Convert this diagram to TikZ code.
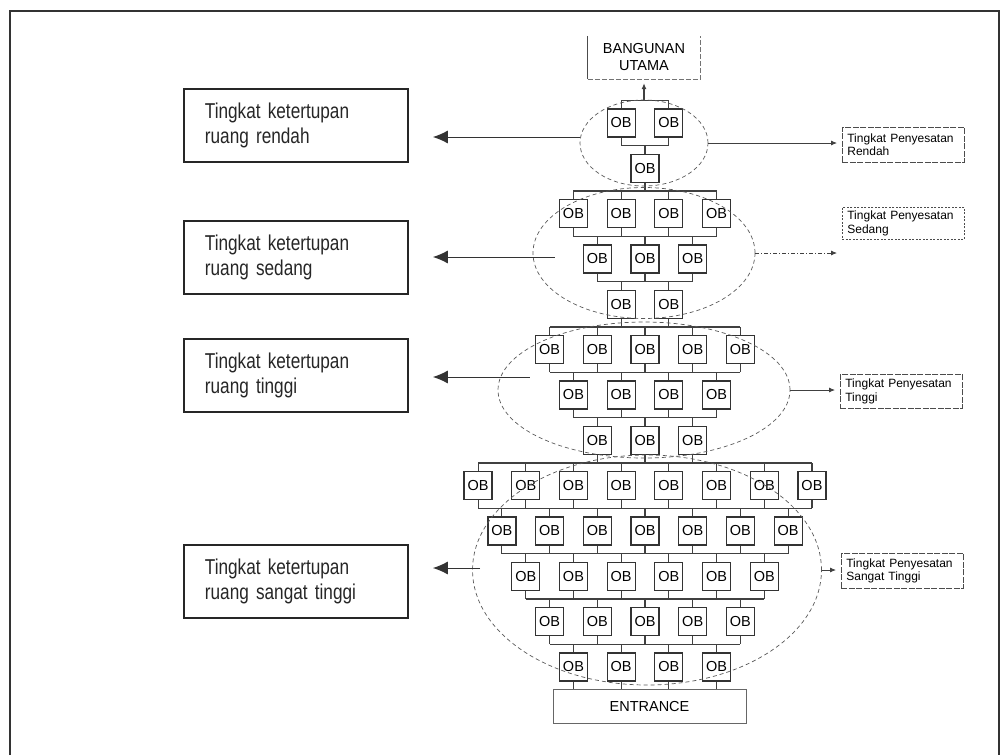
\documentclass[tikz,border=0pt]{standalone}
\usepackage{fontspec}
\setmainfont{Liberation Sans}
\newfontfamily\narrowfont[FakeStretch=0.8,WordSpace=0.75]{Liberation Sans}
\usetikzlibrary{shapes.geometric,arrows.meta}

\begin{document}
\begin{tikzpicture}[x=1pt,y=-1pt,>={Latex[length=6pt,width=5pt]}]

\tikzset{%
every ob/.style={
rectangle,
draw=black!80,
line width=1.2pt,
minimum size=28pt,
inner sep=0pt,
font=\fontsize{14.5}{14.5}\selectfont
},
tree line/.style={
draw=black!75,
line width=1.1pt
},
zone/.style={
ellipse,
draw=black!65,
dash pattern=on 4pt off 3pt,
line width=0.7pt,
inner sep=0pt
},
closure box/.style={
rectangle,
draw=black!85,
line width=1.8pt,
anchor=north west,
minimum height=73pt,
text width=182pt,
inner xsep=21pt,
align=left,
text=black!85,
font=\narrowfont\fontsize{21.5}{24.5}\selectfont
},
drift box/.style={
rectangle,
draw=black!70,
line width=0.7pt,
dash pattern=on 6pt off 1.5pt,
anchor=north west,
minimum height=35pt,
text width=112pt,
inner xsep=5pt,
align=left,
font=\fontsize{12}{13.5}\selectfont
},
end box/.style={
rectangle,
inner sep=0pt,
align=center,
font=\fontsize{14.5}{17}\selectfont
},
closure arrow/.style={
draw=black!80,
line width=1pt,
-{Latex[length=15pt,width=13pt]},
shorten >=24pt
},
drift arrow/.style={
draw=black!75,
line width=0.8pt,
->,
shorten >=5pt
},
}

\useasboundingbox (0,0) rectangle (1001,755);

% Outer frame
\draw [line width=2pt, black!80] (10,755) -- (10,11) -- (999,11) -- (999,755);

% Number of OB boxes in each row, top to bottom
\foreach \n [count=\r] in {2,1,4,3,2,5,4,3,8,7,6,5,4}
\foreach \i in {1,...,\n}
\node [every ob] (ob-\r-\i) at ({645+(\i-(\n+1)/2)*47.7},{123+45.33*(\r-1)}) {OB};

% Bus lines between two rows
\foreach \n [count=\r, remember=\n as \np (initially 0)] in {2,1,4,3,2,5,4,3,8,7,6,5,4} {
\ifnum\r>1
\pgfmathtruncatemacro\rp{\r-1}
\pgfmathtruncatemacro\wide{\n>\np ? \r : \rp}
\pgfmathtruncatemacro\w{max(\n,\np)}
\coordinate (bus-\r) at (645,{123+45.33*(\r-1.5)});
\draw [tree line] (ob-\wide-1 |- bus-\r) -- (ob-\wide-\w |- bus-\r);
\foreach \i in {1,...,\np} \draw [tree line] (ob-\rp-\i.south) -- (ob-\rp-\i |- bus-\r);
\foreach \i in {1,...,\n} \draw [tree line] (ob-\r-\i.north) -- (ob-\r-\i |- bus-\r);
\fi
}

% Main building and entrance
\node [end box, minimum width=112pt, minimum height=43pt] (bangunan) at (644,57.5) {BANGUNAN\\UTAMA};
\draw [black!70, line width=0.8pt] (bangunan.north west) -- (bangunan.south west);
\draw [black!55, line width=0.7pt, dash pattern=on 5pt off 2pt] (bangunan.south west) -- (bangunan.south east) -- (bangunan.north east);
\node [end box, minimum width=193pt, minimum height=34pt, draw=black!60, line width=0.8pt] (entrance) at (649.5,706) {ENTRANCE};

\path (bangunan.south) ++(0,21) coordinate (top-bus);
\draw [tree line] (ob-1-1 |- top-bus) -- (ob-1-2 |- top-bus);
\foreach \i in {1,2} \draw [tree line] (ob-1-\i.north) -- (ob-1-\i |- top-bus);
\draw [tree line, ->, shorten >=4pt] (top-bus) -- (bangunan.south);
\foreach \i in {1,...,4} \draw [tree line] (ob-13-\i.south) -- (ob-13-\i |- entrance.north);

% Zones round the rows
\node [zone, minimum width=128pt, minimum height=86pt] (zone-1) at (644,143) {};
\node [zone, minimum width=222pt, minimum height=131pt] (zone-2) at (644,253) {};
\node [zone, minimum width=292pt, minimum height=136pt] (zone-3) at (644,390) {};
\node [zone, minimum width=349pt, minimum height=230pt] (zone-4) at (647,570) {};

% Closure labels on the left
\node [closure box] (closure-1) at (183,88) {Tingkat ketertupan\\ruang rendah};
\node [closure box] (closure-2) at (183,220) {Tingkat ketertupan\\ruang sedang};
\node [closure box] (closure-3) at (183,338) {Tingkat ketertupan\\ruang tinggi};
\node [closure box] (closure-4) at (183,544) {Tingkat ketertupan\\ruang sangat tinggi};

\coordinate (tail-1) at ([yshift=6pt]zone-1.west);
\coordinate (tail-2) at ([xshift=22pt,yshift=-4pt]zone-2.west);
\coordinate (tail-3) at ([xshift=32pt,yshift=13pt]zone-3.west);
\coordinate (tail-4) at ([xshift=8pt,yshift=2pt]zone-4.west);
\foreach \k in {1,...,4}
\draw [closure arrow] (tail-\k) -- (closure-\k.east |- tail-\k);

% Drift labels on the right
\node [drift box] (drift-1) at (842,127) {Tingkat Penyesatan\\Rendah};
\node [drift box, minimum height=32pt, dash pattern=on 2pt off 1.5pt] (drift-2) at (842,207) {Tingkat Penyesatan\\Sedang};
\node [drift box, minimum height=34pt] (drift-3) at (840,374) {Tingkat Penyesatan\\Tinggi};
\node [drift box] (drift-4) at (841,553) {Tingkat Penyesatan\\Sangat Tinggi};

\draw [drift arrow] (zone-1.east) -- (zone-1.east -| drift-1.west);
\draw [drift arrow, dash pattern=on 4pt off 2pt on 1pt off 2pt] (zone-2.east) -- (zone-2.east -| drift-2.west);
\draw [drift arrow] (zone-3.east) -- (zone-3.east -| drift-3.west);
\draw [drift arrow] (zone-4.east) -- (zone-4.east -| drift-4.west);

\end{tikzpicture}
\end{document}
